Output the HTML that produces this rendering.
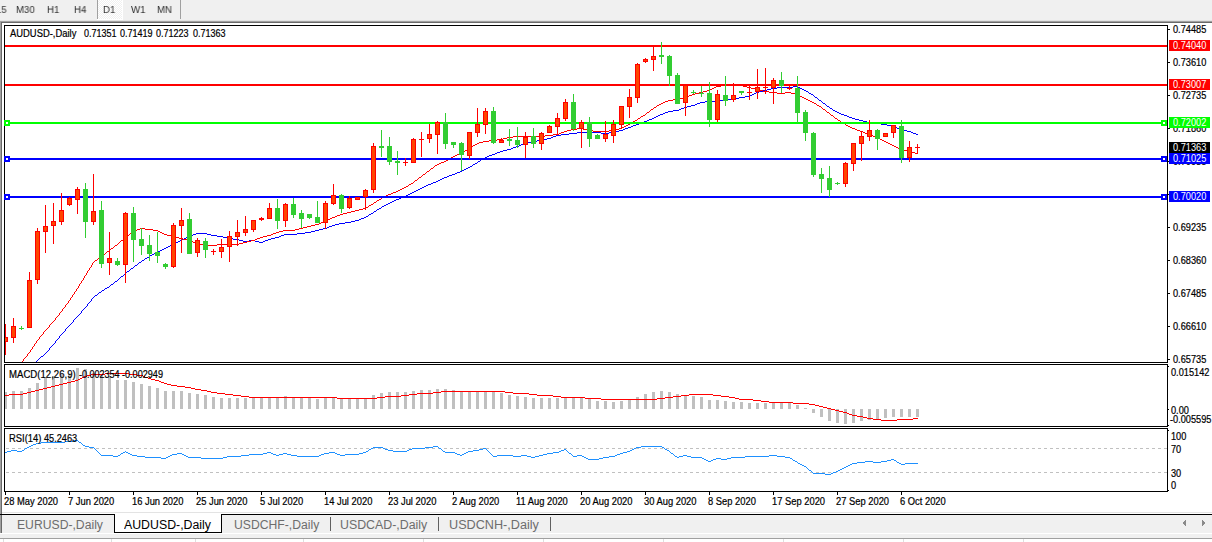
<!DOCTYPE html>
<html><head><meta charset="utf-8"><title>AUDUSD Daily</title>
<style>
html,body{margin:0;padding:0;}
body{width:1212px;height:542px;overflow:hidden;background:#fff;position:relative;font-family:"Liberation Sans", sans-serif;}
svg{position:absolute;left:0;top:0;}
.t{position:absolute;white-space:nowrap;line-height:12px;font-family:"Liberation Sans", sans-serif;font-size:10px;-webkit-text-stroke:0.2px currentColor;}
.bx{width:41px;height:11px;line-height:11px;padding-left:4px;box-sizing:border-box;-webkit-text-stroke:0;}
.tab{font-size:12px;line-height:15px;-webkit-text-stroke:0;}
.tb{will-change:transform;-webkit-text-stroke:0;}
</style></head><body>
<svg width="1212" height="542" shape-rendering="crispEdges">
<rect x="0" y="0" width="1212" height="20" fill="#f0f0f0"/>
<rect x="0" y="20" width="1212" height="1" fill="#e3e3e3"/>
<rect x="0" y="21" width="1212" height="1" fill="#a0a0a0"/>
<rect x="0" y="22" width="1212" height="1" fill="#696969"/>
<defs><pattern id="dith" x="0" y="0" width="2" height="2" patternUnits="userSpaceOnUse"><rect x="0" y="0" width="2" height="2" fill="#f0f0f0"/><rect x="0" y="0" width="1" height="1" fill="#fff"/><rect x="1" y="1" width="1" height="1" fill="#fff"/></pattern></defs>
<rect x="98" y="0" width="24" height="19" fill="url(#dith)"/>
<rect x="122" y="0" width="1" height="20" fill="#ffffff"/>
<rect x="97" y="19" width="26" height="1" fill="#ffffff"/>
<rect x="97" y="0" width="1" height="19" fill="#a0a0a0"/>
<rect x="180" y="0" width="1" height="19" fill="#a0a0a0"/>
<rect x="0" y="22" width="1" height="512" fill="#a0a0a0"/>
<rect x="1" y="22" width="1" height="512" fill="#696969"/>
<rect x="4" y="25" width="1164" height="1" fill="#000"/>
<rect x="4" y="362" width="1164" height="1" fill="#000"/>
<rect x="4" y="25" width="1" height="338" fill="#000"/>
<rect x="1167" y="25" width="1" height="338" fill="#000"/>
<rect x="4" y="364" width="1164" height="1" fill="#000"/>
<rect x="4" y="426" width="1164" height="1" fill="#000"/>
<rect x="4" y="364" width="1" height="63" fill="#000"/>
<rect x="1167" y="364" width="1" height="63" fill="#000"/>
<rect x="4" y="428" width="1164" height="1" fill="#000"/>
<rect x="4" y="491" width="1164" height="1" fill="#000"/>
<rect x="4" y="428" width="1" height="64" fill="#000"/>
<rect x="1167" y="428" width="1" height="64" fill="#000"/>
<rect x="1168" y="29" width="2" height="1" fill="#000"/>
<rect x="1168" y="62" width="2" height="1" fill="#000"/>
<rect x="1168" y="95" width="2" height="1" fill="#000"/>
<rect x="1168" y="128" width="2" height="1" fill="#000"/>
<rect x="1168" y="161" width="2" height="1" fill="#000"/>
<rect x="1168" y="194" width="2" height="1" fill="#000"/>
<rect x="1168" y="227" width="2" height="1" fill="#000"/>
<rect x="1168" y="260" width="2" height="1" fill="#000"/>
<rect x="1168" y="293" width="2" height="1" fill="#000"/>
<rect x="1168" y="326" width="2" height="1" fill="#000"/>
<rect x="1168" y="359" width="2" height="1" fill="#000"/>
<rect x="5" y="492" width="1" height="3" fill="#000"/>
<rect x="69" y="492" width="1" height="3" fill="#000"/>
<rect x="133" y="492" width="1" height="3" fill="#000"/>
<rect x="197" y="492" width="1" height="3" fill="#000"/>
<rect x="261" y="492" width="1" height="3" fill="#000"/>
<rect x="325" y="492" width="1" height="3" fill="#000"/>
<rect x="389" y="492" width="1" height="3" fill="#000"/>
<rect x="453" y="492" width="1" height="3" fill="#000"/>
<rect x="517" y="492" width="1" height="3" fill="#000"/>
<rect x="581" y="492" width="1" height="3" fill="#000"/>
<rect x="645" y="492" width="1" height="3" fill="#000"/>
<rect x="709" y="492" width="1" height="3" fill="#000"/>
<rect x="773" y="492" width="1" height="3" fill="#000"/>
<rect x="837" y="492" width="1" height="3" fill="#000"/>
<rect x="901" y="492" width="1" height="3" fill="#000"/>
<rect x="1168" y="366" width="1" height="1" fill="#000"/>
<rect x="1168" y="409" width="1" height="1" fill="#000"/>
<rect x="1168" y="425" width="1" height="1" fill="#000"/>
<rect x="1168" y="430" width="1" height="1" fill="#000"/>
<rect x="1168" y="490" width="1" height="1" fill="#000"/>
<defs><clipPath id="cm"><rect x="5" y="26" width="1162" height="336"/></clipPath><clipPath id="cd"><rect x="5" y="365" width="1162" height="61"/></clipPath><clipPath id="cr"><rect x="5" y="429" width="1162" height="62"/></clipPath></defs>
<g clip-path="url(#cm)">
<path d="M793 86h5v1h-5zM777 87h16v1h-16zM798 87h2v1h-2zM771 88h6v1h-6zM800 88h2v1h-2zM767 89h4v1h-4zM802 89h2v1h-2zM763 90h4v1h-4zM804 90h2v1h-2zM759 91h4v1h-4zM806 91h2v1h-2zM756 92h3v1h-3zM808 92h1v1h-1zM754 93h2v1h-2zM809 93h2v1h-2zM752 94h2v1h-2zM811 94h2v1h-2zM750 95h2v1h-2zM813 95h1v1h-1zM745 96h5v1h-5zM814 96h1v1h-1zM739 97h6v1h-6zM815 97h2v1h-2zM735 98h4v1h-4zM817 98h1v1h-1zM723 99h12v1h-12zM818 99h1v1h-1zM719 100h4v1h-4zM819 100h2v1h-2zM705 101h14v1h-14zM821 101h1v1h-1zM700 102h5v1h-5zM822 102h1v1h-1zM697 103h3v1h-3zM823 103h2v1h-2zM695 104h2v1h-2zM825 104h1v1h-1zM691 105h4v1h-4zM826 105h1v1h-1zM687 106h4v1h-4zM827 106h2v1h-2zM684 107h3v1h-3zM829 107h1v1h-1zM681 108h3v1h-3zM830 108h2v1h-2zM679 109h2v1h-2zM832 109h1v1h-1zM673 110h6v1h-6zM833 110h2v1h-2zM668 111h5v1h-5zM835 111h2v1h-2zM665 112h3v1h-3zM837 112h2v1h-2zM663 113h2v1h-2zM839 113h2v1h-2zM660 114h3v1h-3zM841 114h3v1h-3zM658 115h2v1h-2zM844 115h3v1h-3zM656 116h2v1h-2zM847 116h2v1h-2zM654 117h2v1h-2zM849 117h3v1h-3zM652 118h2v1h-2zM852 118h3v1h-3zM649 119h3v1h-3zM855 119h4v1h-4zM647 120h2v1h-2zM859 120h4v1h-4zM644 121h3v1h-3zM863 121h4v1h-4zM641 122h3v1h-3zM867 122h6v1h-6zM639 123h2v1h-2zM873 123h8v1h-8zM636 124h3v1h-3zM881 124h6v1h-6zM633 125h3v1h-3zM887 125h4v1h-4zM631 126h2v1h-2zM891 126h4v1h-4zM628 127h3v1h-3zM895 127h2v1h-2zM625 128h3v1h-3zM897 128h3v1h-3zM623 129h2v1h-2zM900 129h3v1h-3zM619 130h4v1h-4zM903 130h4v1h-4zM615 131h4v1h-4zM907 131h4v1h-4zM577 132h24v1h-24zM609 132h6v1h-6zM911 132h2v1h-2zM569 133h8v1h-8zM601 133h8v1h-8zM913 133h3v1h-3zM561 134h8v1h-8zM916 134h2v1h-2zM556 135h5v1h-5zM553 136h3v1h-3zM551 137h2v1h-2zM547 138h4v1h-4zM543 139h4v1h-4zM537 140h6v1h-6zM531 141h6v1h-6zM527 142h4v1h-4zM524 143h3v1h-3zM521 144h3v1h-3zM519 145h2v1h-2zM516 146h3v1h-3zM513 147h3v1h-3zM511 148h2v1h-2zM507 149h4v1h-4zM503 150h4v1h-4zM500 151h3v1h-3zM497 152h3v1h-3zM495 153h2v1h-2zM492 154h3v1h-3zM489 155h3v1h-3zM487 156h2v1h-2zM485 157h2v1h-2zM483 158h2v1h-2zM481 159h2v1h-2zM480 160h1v1h-1zM478 161h2v1h-2zM477 162h1v1h-1zM475 163h2v1h-2zM473 164h2v1h-2zM472 165h1v1h-1zM470 166h2v1h-2zM468 167h2v1h-2zM466 168h2v1h-2zM464 169h2v1h-2zM462 170h2v1h-2zM460 171h2v1h-2zM457 172h3v1h-3zM455 173h2v1h-2zM452 174h3v1h-3zM449 175h3v1h-3zM447 176h2v1h-2zM444 177h3v1h-3zM442 178h2v1h-2zM440 179h2v1h-2zM438 180h2v1h-2zM436 181h2v1h-2zM433 182h3v1h-3zM431 183h2v1h-2zM428 184h3v1h-3zM426 185h2v1h-2zM424 186h2v1h-2zM422 187h2v1h-2zM420 188h2v1h-2zM418 189h2v1h-2zM416 190h2v1h-2zM414 191h2v1h-2zM412 192h2v1h-2zM410 193h2v1h-2zM408 194h2v1h-2zM406 195h2v1h-2zM404 196h2v1h-2zM401 197h3v1h-3zM399 198h2v1h-2zM396 199h3v1h-3zM394 200h2v1h-2zM392 201h2v1h-2zM390 202h2v1h-2zM388 203h2v1h-2zM386 204h2v1h-2zM384 205h2v1h-2zM382 206h2v1h-2zM381 207h1v1h-1zM379 208h2v1h-2zM377 209h2v1h-2zM376 210h1v1h-1zM374 211h2v1h-2zM373 212h1v1h-1zM371 213h2v1h-2zM369 214h2v1h-2zM368 215h1v1h-1zM366 216h2v1h-2zM364 217h2v1h-2zM361 218h3v1h-3zM359 219h2v1h-2zM355 220h4v1h-4zM351 221h4v1h-4zM345 222h6v1h-6zM339 223h6v1h-6zM335 224h4v1h-4zM332 225h3v1h-3zM329 226h3v1h-3zM327 227h2v1h-2zM323 228h4v1h-4zM319 229h4v1h-4zM315 230h4v1h-4zM311 231h4v1h-4zM305 232h6v1h-6zM196 233h11v1h-11zM297 233h8v1h-8zM193 234h3v1h-3zM207 234h4v1h-4zM284 234h13v1h-13zM191 235h2v1h-2zM211 235h6v1h-6zM281 235h3v1h-3zM188 236h3v1h-3zM217 236h6v1h-6zM279 236h2v1h-2zM186 237h2v1h-2zM223 237h4v1h-4zM275 237h4v1h-4zM184 238h2v1h-2zM227 238h6v1h-6zM271 238h4v1h-4zM182 239h2v1h-2zM233 239h6v1h-6zM268 239h3v1h-3zM180 240h2v1h-2zM239 240h4v1h-4zM249 240h6v1h-6zM265 240h3v1h-3zM178 241h2v1h-2zM243 241h6v1h-6zM255 241h4v1h-4zM263 241h2v1h-2zM176 242h2v1h-2zM259 242h4v1h-4zM174 243h2v1h-2zM172 244h2v1h-2zM170 245h2v1h-2zM168 246h2v1h-2zM166 247h2v1h-2zM164 248h2v1h-2zM162 249h2v1h-2zM160 250h2v1h-2zM158 251h2v1h-2zM156 252h2v1h-2zM154 253h2v1h-2zM152 254h2v1h-2zM150 255h2v1h-2zM149 256h1v1h-1zM147 257h2v1h-2zM145 258h2v1h-2zM144 259h1v1h-1zM142 260h2v1h-2zM141 261h1v1h-1zM139 262h2v1h-2zM138 263h1v1h-1zM137 264h1v1h-1zM135 265h2v1h-2zM134 266h1v1h-1zM133 267h1v1h-1zM131 268h2v1h-2zM130 269h1v1h-1zM129 270h1v1h-1zM127 271h2v1h-2zM126 272h1v1h-1zM125 273h1v1h-1zM124 274h1v1h-1zM123 275h1v1h-1zM121 276h2v1h-2zM120 277h1v1h-1zM119 278h1v1h-1zM118 279h1v1h-1zM117 280h1v1h-1zM115 281h2v1h-2zM114 282h1v1h-1zM113 283h1v1h-1zM111 284h2v1h-2zM110 285h1v1h-1zM109 286h1v1h-1zM107 287h2v1h-2zM105 288h2v1h-2zM104 289h1v1h-1zM102 290h2v1h-2zM101 291h1v1h-1zM99 292h2v1h-2zM98 293h1v1h-1zM97 294h1v1h-1zM95 295h2v1h-2zM94 296h1v1h-1zM93 297h1v1h-1zM92 298h1v1h-1zM91 299h1v1h-1zM91 300h1v1h-1zM90 301h1v1h-1zM89 302h1v1h-1zM88 303h1v1h-1zM87 304h1v1h-1zM87 305h1v1h-1zM86 306h1v1h-1zM85 307h1v1h-1zM84 308h1v1h-1zM83 309h1v1h-1zM82 310h1v1h-1zM81 311h1v1h-1zM81 312h1v1h-1zM80 313h1v1h-1zM79 314h1v1h-1zM78 315h1v1h-1zM77 316h1v1h-1zM76 317h1v1h-1zM75 318h1v1h-1zM74 319h1v1h-1zM73 320h1v1h-1zM73 321h1v1h-1zM72 322h1v1h-1zM71 323h1v1h-1zM70 324h1v1h-1zM69 325h1v1h-1zM68 326h1v1h-1zM67 327h1v1h-1zM66 328h1v1h-1zM65 329h1v1h-1zM65 330h1v1h-1zM64 331h1v1h-1zM63 332h1v1h-1zM62 333h1v1h-1zM61 334h1v1h-1zM60 335h1v1h-1zM59 336h1v1h-1zM59 337h1v1h-1zM58 338h1v1h-1zM57 339h1v1h-1zM56 340h1v1h-1zM55 341h1v1h-1zM55 342h1v1h-1zM54 343h1v1h-1zM53 344h1v1h-1zM52 345h1v1h-1zM51 346h1v1h-1zM50 347h1v1h-1zM49 348h1v1h-1zM49 349h1v1h-1zM48 350h1v1h-1zM47 351h1v1h-1zM46 352h1v1h-1zM45 353h1v1h-1zM44 354h1v1h-1zM43 355h1v1h-1zM41 356h2v1h-2zM40 357h1v1h-1zM39 358h1v1h-1zM38 359h1v1h-1zM37 360h1v1h-1zM36 361h1v1h-1zM35 362h1v1h-1zM33 363h2v1h-2zM32 364h1v1h-1zM31 365h1v1h-1zM30 366h1v1h-1zM29 367h1v1h-1z" fill="#0000ff"/>
<path d="M721 85h22v1h-22zM716 86h5v1h-5zM743 86h4v1h-4zM714 87h2v1h-2zM747 87h4v1h-4zM712 88h2v1h-2zM751 88h4v1h-4zM710 89h2v1h-2zM755 89h4v1h-4zM707 90h3v1h-3zM759 90h4v1h-4zM703 91h4v1h-4zM763 91h6v1h-6zM699 92h4v1h-4zM769 92h8v1h-8zM785 92h6v1h-6zM695 93h4v1h-4zM777 93h8v1h-8zM791 93h4v1h-4zM692 94h3v1h-3zM795 94h3v1h-3zM689 95h3v1h-3zM798 95h2v1h-2zM687 96h2v1h-2zM800 96h2v1h-2zM683 97h4v1h-4zM802 97h2v1h-2zM679 98h4v1h-4zM804 98h2v1h-2zM673 99h6v1h-6zM806 99h2v1h-2zM668 100h5v1h-5zM808 100h2v1h-2zM665 101h3v1h-3zM810 101h2v1h-2zM663 102h2v1h-2zM812 102h2v1h-2zM661 103h2v1h-2zM814 103h2v1h-2zM659 104h2v1h-2zM816 104h1v1h-1zM657 105h2v1h-2zM817 105h2v1h-2zM656 106h1v1h-1zM819 106h2v1h-2zM654 107h2v1h-2zM821 107h1v1h-1zM653 108h1v1h-1zM822 108h1v1h-1zM651 109h2v1h-2zM823 109h2v1h-2zM650 110h1v1h-1zM825 110h1v1h-1zM649 111h1v1h-1zM826 111h1v1h-1zM647 112h2v1h-2zM827 112h2v1h-2zM646 113h1v1h-1zM829 113h1v1h-1zM645 114h1v1h-1zM830 114h1v1h-1zM643 115h2v1h-2zM831 115h2v1h-2zM641 116h2v1h-2zM833 116h1v1h-1zM640 117h1v1h-1zM834 117h1v1h-1zM638 118h2v1h-2zM835 118h2v1h-2zM637 119h1v1h-1zM837 119h1v1h-1zM635 120h2v1h-2zM838 120h2v1h-2zM633 121h2v1h-2zM840 121h1v1h-1zM632 122h1v1h-1zM841 122h2v1h-2zM630 123h2v1h-2zM843 123h2v1h-2zM628 124h2v1h-2zM845 124h1v1h-1zM626 125h2v1h-2zM846 125h2v1h-2zM624 126h2v1h-2zM848 126h2v1h-2zM622 127h2v1h-2zM850 127h2v1h-2zM577 128h6v1h-6zM619 128h3v1h-3zM852 128h3v1h-3zM571 129h6v1h-6zM583 129h4v1h-4zM615 129h4v1h-4zM855 129h2v1h-2zM567 130h4v1h-4zM587 130h6v1h-6zM609 130h6v1h-6zM857 130h3v1h-3zM564 131h3v1h-3zM593 131h16v1h-16zM860 131h3v1h-3zM561 132h3v1h-3zM863 132h2v1h-2zM559 133h2v1h-2zM865 133h3v1h-3zM553 134h6v1h-6zM868 134h3v1h-3zM545 135h8v1h-8zM871 135h2v1h-2zM513 136h32v1h-32zM873 136h3v1h-3zM507 137h6v1h-6zM876 137h2v1h-2zM503 138h4v1h-4zM878 138h2v1h-2zM497 139h6v1h-6zM880 139h2v1h-2zM489 140h8v1h-8zM882 140h2v1h-2zM483 141h6v1h-6zM884 141h2v1h-2zM479 142h4v1h-4zM886 142h2v1h-2zM477 143h2v1h-2zM888 143h2v1h-2zM475 144h2v1h-2zM890 144h2v1h-2zM473 145h2v1h-2zM892 145h2v1h-2zM472 146h1v1h-1zM894 146h2v1h-2zM470 147h2v1h-2zM896 147h2v1h-2zM469 148h1v1h-1zM898 148h2v1h-2zM467 149h2v1h-2zM900 149h3v1h-3zM465 150h2v1h-2zM903 150h4v1h-4zM464 151h1v1h-1zM907 151h4v1h-4zM462 152h2v1h-2zM911 152h4v1h-4zM460 153h2v1h-2zM915 153h3v1h-3zM457 154h3v1h-3zM455 155h2v1h-2zM453 156h2v1h-2zM451 157h2v1h-2zM449 158h2v1h-2zM448 159h1v1h-1zM446 160h2v1h-2zM444 161h2v1h-2zM441 162h3v1h-3zM439 163h2v1h-2zM437 164h2v1h-2zM435 165h2v1h-2zM434 166h1v1h-1zM433 167h1v1h-1zM431 168h2v1h-2zM430 169h1v1h-1zM429 170h1v1h-1zM427 171h2v1h-2zM426 172h1v1h-1zM425 173h1v1h-1zM423 174h2v1h-2zM422 175h1v1h-1zM421 176h1v1h-1zM419 177h2v1h-2zM418 178h1v1h-1zM417 179h1v1h-1zM415 180h2v1h-2zM414 181h1v1h-1zM413 182h1v1h-1zM411 183h2v1h-2zM409 184h2v1h-2zM408 185h1v1h-1zM406 186h2v1h-2zM404 187h2v1h-2zM402 188h2v1h-2zM400 189h2v1h-2zM398 190h2v1h-2zM396 191h2v1h-2zM393 192h3v1h-3zM391 193h2v1h-2zM388 194h3v1h-3zM386 195h2v1h-2zM384 196h2v1h-2zM382 197h2v1h-2zM381 198h1v1h-1zM379 199h2v1h-2zM377 200h2v1h-2zM376 201h1v1h-1zM374 202h2v1h-2zM373 203h1v1h-1zM371 204h2v1h-2zM369 205h2v1h-2zM368 206h1v1h-1zM366 207h2v1h-2zM363 208h3v1h-3zM359 209h4v1h-4zM355 210h4v1h-4zM351 211h4v1h-4zM347 212h4v1h-4zM343 213h4v1h-4zM340 214h3v1h-3zM337 215h3v1h-3zM335 216h2v1h-2zM332 217h3v1h-3zM330 218h2v1h-2zM328 219h2v1h-2zM326 220h2v1h-2zM324 221h2v1h-2zM321 222h3v1h-3zM319 223h2v1h-2zM315 224h4v1h-4zM311 225h4v1h-4zM307 226h4v1h-4zM303 227h4v1h-4zM140 228h5v1h-5zM299 228h4v1h-4zM137 229h3v1h-3zM145 229h8v1h-8zM295 229h4v1h-4zM135 230h2v1h-2zM153 230h5v1h-5zM283 230h12v1h-12zM133 231h2v1h-2zM158 231h2v1h-2zM279 231h4v1h-4zM131 232h2v1h-2zM160 232h2v1h-2zM276 232h3v1h-3zM130 233h1v1h-1zM162 233h2v1h-2zM273 233h3v1h-3zM129 234h1v1h-1zM164 234h3v1h-3zM271 234h2v1h-2zM127 235h2v1h-2zM167 235h4v1h-4zM267 235h4v1h-4zM126 236h1v1h-1zM171 236h4v1h-4zM263 236h4v1h-4zM125 237h1v1h-1zM175 237h4v1h-4zM260 237h3v1h-3zM124 238h1v1h-1zM179 238h4v1h-4zM257 238h3v1h-3zM123 239h1v1h-1zM183 239h4v1h-4zM255 239h2v1h-2zM121 240h2v1h-2zM187 240h4v1h-4zM251 240h4v1h-4zM120 241h1v1h-1zM191 241h2v1h-2zM247 241h4v1h-4zM119 242h1v1h-1zM193 242h3v1h-3zM243 242h4v1h-4zM118 243h1v1h-1zM196 243h3v1h-3zM239 243h4v1h-4zM117 244h1v1h-1zM199 244h4v1h-4zM217 244h22v1h-22zM115 245h2v1h-2zM203 245h14v1h-14zM114 246h1v1h-1zM113 247h1v1h-1zM111 248h2v1h-2zM110 249h1v1h-1zM109 250h1v1h-1zM107 251h2v1h-2zM106 252h1v1h-1zM105 253h1v1h-1zM103 254h2v1h-2zM102 255h1v1h-1zM101 256h1v1h-1zM99 257h2v1h-2zM98 258h1v1h-1zM97 259h1v1h-1zM95 260h2v1h-2zM94 261h1v1h-1zM93 262h1v1h-1zM92 263h1v1h-1zM92 264h1v1h-1zM91 265h1v1h-1zM91 266h1v1h-1zM90 267h1v1h-1zM89 268h1v1h-1zM89 269h1v1h-1zM88 270h1v1h-1zM87 271h1v1h-1zM87 272h1v1h-1zM86 273h1v1h-1zM86 274h1v1h-1zM85 275h1v1h-1zM84 276h1v1h-1zM84 277h1v1h-1zM83 278h1v1h-1zM83 279h1v1h-1zM82 280h1v1h-1zM81 281h1v1h-1zM81 282h1v1h-1zM80 283h1v1h-1zM79 284h1v1h-1zM79 285h1v1h-1zM78 286h1v1h-1zM78 287h1v1h-1zM77 288h1v1h-1zM76 289h1v1h-1zM76 290h1v1h-1zM75 291h1v1h-1zM74 292h1v1h-1zM74 293h1v1h-1zM73 294h1v1h-1zM72 295h1v1h-1zM72 296h1v1h-1zM71 297h1v1h-1zM70 298h1v1h-1zM70 299h1v1h-1zM69 300h1v1h-1zM68 301h1v1h-1zM68 302h1v1h-1zM67 303h1v1h-1zM66 304h1v1h-1zM65 305h1v1h-1zM65 306h1v1h-1zM64 307h1v1h-1zM63 308h1v1h-1zM62 309h1v1h-1zM62 310h1v1h-1zM61 311h1v1h-1zM60 312h1v1h-1zM59 313h1v1h-1zM59 314h1v1h-1zM58 315h1v1h-1zM57 316h1v1h-1zM56 317h1v1h-1zM55 318h1v1h-1zM55 319h1v1h-1zM54 320h1v1h-1zM53 321h1v1h-1zM52 322h1v1h-1zM51 323h1v1h-1zM50 324h1v1h-1zM49 325h1v1h-1zM49 326h1v1h-1zM48 327h1v1h-1zM47 328h1v1h-1zM46 329h1v1h-1zM45 330h1v1h-1zM44 331h1v1h-1zM43 332h1v1h-1zM43 333h1v1h-1zM42 334h1v1h-1zM41 335h1v1h-1zM40 336h1v1h-1zM39 337h1v1h-1zM39 338h1v1h-1zM38 339h1v1h-1zM37 340h1v1h-1zM36 341h1v1h-1zM36 342h1v1h-1zM35 343h1v1h-1zM34 344h1v1h-1zM34 345h1v1h-1zM33 346h1v1h-1zM32 347h1v1h-1zM32 348h1v1h-1zM31 349h1v1h-1zM30 350h1v1h-1zM30 351h1v1h-1zM29 352h1v1h-1zM28 353h1v1h-1zM27 354h1v1h-1zM27 355h1v1h-1zM26 356h1v1h-1zM25 357h1v1h-1zM24 358h1v1h-1zM23 359h1v1h-1zM23 360h1v1h-1zM22 361h1v1h-1zM21 362h1v1h-1z" fill="#ff0000"/>
<rect x="5" y="45" width="1162" height="2" fill="#ff0000"/>
<rect x="5" y="84" width="1162" height="2" fill="#ff0000"/>
<rect x="5" y="122" width="1162" height="2" fill="#00ff00"/>
<rect x="5" y="158" width="1162" height="2" fill="#0000ff"/>
<rect x="5" y="196" width="1162" height="2" fill="#0000ff"/>
<rect x="5" y="324" width="1" height="31" fill="#ff0000"/>
<rect x="3" y="337" width="5" height="5" fill="#ff0000"/>
<rect x="4" y="338" width="3" height="3" fill="#ff4500"/>
<rect x="13" y="318" width="1" height="25" fill="#ff0000"/>
<rect x="11" y="326" width="5" height="12" fill="#ff0000"/>
<rect x="12" y="327" width="3" height="10" fill="#ff4500"/>
<rect x="21" y="326" width="1" height="4" fill="#32cd32"/>
<rect x="19" y="328" width="5" height="1" fill="#32cd32"/>
<rect x="29" y="272" width="1" height="56" fill="#ff0000"/>
<rect x="27" y="280" width="5" height="48" fill="#ff0000"/>
<rect x="28" y="281" width="3" height="46" fill="#ff4500"/>
<rect x="37" y="228" width="1" height="56" fill="#ff0000"/>
<rect x="35" y="231" width="5" height="49" fill="#ff0000"/>
<rect x="36" y="232" width="3" height="47" fill="#ff4500"/>
<rect x="45" y="205" width="1" height="48" fill="#ff0000"/>
<rect x="43" y="226" width="5" height="6" fill="#ff0000"/>
<rect x="44" y="227" width="3" height="4" fill="#ff4500"/>
<rect x="53" y="203" width="1" height="41" fill="#ff0000"/>
<rect x="51" y="221" width="5" height="5" fill="#ff0000"/>
<rect x="52" y="222" width="3" height="3" fill="#ff4500"/>
<rect x="61" y="193" width="1" height="32" fill="#ff0000"/>
<rect x="59" y="210" width="5" height="12" fill="#ff0000"/>
<rect x="60" y="211" width="3" height="10" fill="#ff4500"/>
<rect x="69" y="197" width="1" height="9" fill="#ff0000"/>
<rect x="67" y="198" width="5" height="7" fill="#ff0000"/>
<rect x="68" y="199" width="3" height="5" fill="#ff4500"/>
<rect x="77" y="187" width="1" height="27" fill="#ff0000"/>
<rect x="75" y="189" width="5" height="11" fill="#ff0000"/>
<rect x="76" y="190" width="3" height="9" fill="#ff4500"/>
<rect x="85" y="183" width="1" height="55" fill="#32cd32"/>
<rect x="83" y="189" width="5" height="33" fill="#32cd32"/>
<rect x="93" y="174" width="1" height="51" fill="#ff0000"/>
<rect x="91" y="211" width="5" height="11" fill="#ff0000"/>
<rect x="92" y="212" width="3" height="9" fill="#ff4500"/>
<rect x="101" y="201" width="1" height="67" fill="#32cd32"/>
<rect x="99" y="210" width="5" height="54" fill="#32cd32"/>
<rect x="109" y="232" width="1" height="43" fill="#ff0000"/>
<rect x="107" y="258" width="5" height="5" fill="#ff0000"/>
<rect x="108" y="259" width="3" height="3" fill="#ff4500"/>
<rect x="117" y="258" width="1" height="8" fill="#32cd32"/>
<rect x="115" y="261" width="5" height="4" fill="#32cd32"/>
<rect x="125" y="212" width="1" height="71" fill="#ff0000"/>
<rect x="123" y="213" width="5" height="52" fill="#ff0000"/>
<rect x="124" y="214" width="3" height="50" fill="#ff4500"/>
<rect x="133" y="207" width="1" height="55" fill="#32cd32"/>
<rect x="131" y="213" width="5" height="27" fill="#32cd32"/>
<rect x="141" y="228" width="1" height="27" fill="#32cd32"/>
<rect x="139" y="239" width="5" height="7" fill="#32cd32"/>
<rect x="149" y="235" width="1" height="26" fill="#32cd32"/>
<rect x="147" y="245" width="5" height="9" fill="#32cd32"/>
<rect x="157" y="232" width="1" height="31" fill="#32cd32"/>
<rect x="155" y="252" width="5" height="4" fill="#32cd32"/>
<rect x="165" y="263" width="1" height="6" fill="#32cd32"/>
<rect x="163" y="264" width="5" height="3" fill="#32cd32"/>
<rect x="173" y="223" width="1" height="45" fill="#ff0000"/>
<rect x="171" y="225" width="5" height="42" fill="#ff0000"/>
<rect x="172" y="226" width="3" height="40" fill="#ff4500"/>
<rect x="181" y="208" width="1" height="45" fill="#ff0000"/>
<rect x="179" y="220" width="5" height="6" fill="#ff0000"/>
<rect x="180" y="221" width="3" height="4" fill="#ff4500"/>
<rect x="189" y="213" width="1" height="41" fill="#32cd32"/>
<rect x="187" y="219" width="5" height="35" fill="#32cd32"/>
<rect x="197" y="238" width="1" height="19" fill="#ff0000"/>
<rect x="195" y="240" width="5" height="13" fill="#ff0000"/>
<rect x="196" y="241" width="3" height="11" fill="#ff4500"/>
<rect x="205" y="238" width="1" height="20" fill="#32cd32"/>
<rect x="203" y="241" width="5" height="9" fill="#32cd32"/>
<rect x="213" y="249" width="1" height="6" fill="#ff0000"/>
<rect x="211" y="251" width="5" height="1" fill="#ff0000"/>
<rect x="221" y="239" width="1" height="19" fill="#ff0000"/>
<rect x="219" y="247" width="5" height="5" fill="#ff0000"/>
<rect x="220" y="248" width="3" height="3" fill="#ff4500"/>
<rect x="229" y="231" width="1" height="31" fill="#ff0000"/>
<rect x="227" y="236" width="5" height="11" fill="#ff0000"/>
<rect x="228" y="237" width="3" height="9" fill="#ff4500"/>
<rect x="237" y="220" width="1" height="26" fill="#ff0000"/>
<rect x="235" y="232" width="5" height="5" fill="#ff0000"/>
<rect x="236" y="233" width="3" height="3" fill="#ff4500"/>
<rect x="245" y="216" width="1" height="20" fill="#ff0000"/>
<rect x="243" y="229" width="5" height="4" fill="#ff0000"/>
<rect x="244" y="230" width="3" height="2" fill="#ff4500"/>
<rect x="253" y="220" width="1" height="12" fill="#ff0000"/>
<rect x="251" y="220" width="5" height="10" fill="#ff0000"/>
<rect x="252" y="221" width="3" height="8" fill="#ff4500"/>
<rect x="261" y="217" width="1" height="4" fill="#ff0000"/>
<rect x="259" y="218" width="5" height="2" fill="#ff0000"/>
<rect x="269" y="203" width="1" height="16" fill="#ff0000"/>
<rect x="267" y="208" width="5" height="11" fill="#ff0000"/>
<rect x="268" y="209" width="3" height="9" fill="#ff4500"/>
<rect x="277" y="199" width="1" height="30" fill="#32cd32"/>
<rect x="275" y="208" width="5" height="13" fill="#32cd32"/>
<rect x="285" y="203" width="1" height="24" fill="#ff0000"/>
<rect x="283" y="204" width="5" height="17" fill="#ff0000"/>
<rect x="284" y="205" width="3" height="15" fill="#ff4500"/>
<rect x="293" y="198" width="1" height="20" fill="#32cd32"/>
<rect x="291" y="204" width="5" height="11" fill="#32cd32"/>
<rect x="301" y="210" width="1" height="18" fill="#32cd32"/>
<rect x="299" y="213" width="5" height="6" fill="#32cd32"/>
<rect x="309" y="214" width="1" height="5" fill="#32cd32"/>
<rect x="307" y="214" width="5" height="4" fill="#32cd32"/>
<rect x="317" y="201" width="1" height="22" fill="#32cd32"/>
<rect x="315" y="217" width="5" height="6" fill="#32cd32"/>
<rect x="325" y="201" width="1" height="28" fill="#ff0000"/>
<rect x="323" y="203" width="5" height="20" fill="#ff0000"/>
<rect x="324" y="204" width="3" height="18" fill="#ff4500"/>
<rect x="333" y="184" width="1" height="21" fill="#ff0000"/>
<rect x="331" y="195" width="5" height="9" fill="#ff0000"/>
<rect x="332" y="196" width="3" height="7" fill="#ff4500"/>
<rect x="341" y="194" width="1" height="19" fill="#32cd32"/>
<rect x="339" y="195" width="5" height="14" fill="#32cd32"/>
<rect x="349" y="196" width="1" height="13" fill="#ff0000"/>
<rect x="347" y="198" width="5" height="10" fill="#ff0000"/>
<rect x="348" y="199" width="3" height="8" fill="#ff4500"/>
<rect x="357" y="197" width="1" height="3" fill="#ff0000"/>
<rect x="355" y="197" width="5" height="3" fill="#ff0000"/>
<rect x="356" y="198" width="3" height="1" fill="#ff4500"/>
<rect x="365" y="189" width="1" height="21" fill="#ff0000"/>
<rect x="363" y="190" width="5" height="7" fill="#ff0000"/>
<rect x="364" y="191" width="3" height="5" fill="#ff4500"/>
<rect x="373" y="143" width="1" height="50" fill="#ff0000"/>
<rect x="371" y="146" width="5" height="44" fill="#ff0000"/>
<rect x="372" y="147" width="3" height="42" fill="#ff4500"/>
<rect x="381" y="130" width="1" height="27" fill="#32cd32"/>
<rect x="379" y="146" width="5" height="2" fill="#32cd32"/>
<rect x="389" y="137" width="1" height="28" fill="#32cd32"/>
<rect x="387" y="146" width="5" height="16" fill="#32cd32"/>
<rect x="397" y="151" width="1" height="24" fill="#32cd32"/>
<rect x="395" y="161" width="5" height="2" fill="#32cd32"/>
<rect x="405" y="158" width="1" height="8" fill="#ff0000"/>
<rect x="403" y="162" width="5" height="1" fill="#ff0000"/>
<rect x="413" y="138" width="1" height="25" fill="#ff0000"/>
<rect x="411" y="139" width="5" height="24" fill="#ff0000"/>
<rect x="412" y="140" width="3" height="22" fill="#ff4500"/>
<rect x="421" y="132" width="1" height="25" fill="#ff0000"/>
<rect x="419" y="139" width="5" height="1" fill="#ff0000"/>
<rect x="429" y="124" width="1" height="19" fill="#ff0000"/>
<rect x="427" y="134" width="5" height="5" fill="#ff0000"/>
<rect x="428" y="135" width="3" height="3" fill="#ff4500"/>
<rect x="437" y="121" width="1" height="33" fill="#ff0000"/>
<rect x="435" y="122" width="5" height="13" fill="#ff0000"/>
<rect x="436" y="123" width="3" height="11" fill="#ff4500"/>
<rect x="445" y="113" width="1" height="36" fill="#32cd32"/>
<rect x="443" y="122" width="5" height="22" fill="#32cd32"/>
<rect x="453" y="142" width="1" height="6" fill="#32cd32"/>
<rect x="451" y="142" width="5" height="3" fill="#32cd32"/>
<rect x="461" y="142" width="1" height="29" fill="#32cd32"/>
<rect x="459" y="143" width="5" height="12" fill="#32cd32"/>
<rect x="469" y="132" width="1" height="27" fill="#ff0000"/>
<rect x="467" y="132" width="5" height="24" fill="#ff0000"/>
<rect x="468" y="133" width="3" height="22" fill="#ff4500"/>
<rect x="477" y="108" width="1" height="29" fill="#ff0000"/>
<rect x="475" y="124" width="5" height="9" fill="#ff0000"/>
<rect x="476" y="125" width="3" height="7" fill="#ff4500"/>
<rect x="485" y="108" width="1" height="26" fill="#ff0000"/>
<rect x="483" y="111" width="5" height="14" fill="#ff0000"/>
<rect x="484" y="112" width="3" height="12" fill="#ff4500"/>
<rect x="493" y="107" width="1" height="37" fill="#32cd32"/>
<rect x="491" y="111" width="5" height="32" fill="#32cd32"/>
<rect x="501" y="138" width="1" height="5" fill="#ff0000"/>
<rect x="499" y="140" width="5" height="3" fill="#ff0000"/>
<rect x="500" y="141" width="3" height="1" fill="#ff4500"/>
<rect x="509" y="129" width="1" height="17" fill="#32cd32"/>
<rect x="507" y="139" width="5" height="2" fill="#32cd32"/>
<rect x="517" y="127" width="1" height="21" fill="#32cd32"/>
<rect x="515" y="140" width="5" height="5" fill="#32cd32"/>
<rect x="525" y="132" width="1" height="26" fill="#ff0000"/>
<rect x="523" y="137" width="5" height="8" fill="#ff0000"/>
<rect x="524" y="138" width="3" height="6" fill="#ff4500"/>
<rect x="533" y="128" width="1" height="20" fill="#32cd32"/>
<rect x="531" y="136" width="5" height="8" fill="#32cd32"/>
<rect x="541" y="132" width="1" height="18" fill="#ff0000"/>
<rect x="539" y="133" width="5" height="11" fill="#ff0000"/>
<rect x="540" y="134" width="3" height="9" fill="#ff4500"/>
<rect x="549" y="125" width="1" height="8" fill="#ff0000"/>
<rect x="547" y="126" width="5" height="7" fill="#ff0000"/>
<rect x="548" y="127" width="3" height="5" fill="#ff4500"/>
<rect x="557" y="113" width="1" height="22" fill="#ff0000"/>
<rect x="555" y="118" width="5" height="9" fill="#ff0000"/>
<rect x="556" y="119" width="3" height="7" fill="#ff4500"/>
<rect x="565" y="99" width="1" height="22" fill="#ff0000"/>
<rect x="563" y="102" width="5" height="17" fill="#ff0000"/>
<rect x="564" y="103" width="3" height="15" fill="#ff4500"/>
<rect x="573" y="94" width="1" height="37" fill="#32cd32"/>
<rect x="571" y="102" width="5" height="27" fill="#32cd32"/>
<rect x="581" y="120" width="1" height="28" fill="#ff0000"/>
<rect x="579" y="122" width="5" height="7" fill="#ff0000"/>
<rect x="580" y="123" width="3" height="5" fill="#ff4500"/>
<rect x="589" y="117" width="1" height="30" fill="#32cd32"/>
<rect x="587" y="122" width="5" height="17" fill="#32cd32"/>
<rect x="597" y="134" width="1" height="5" fill="#32cd32"/>
<rect x="595" y="135" width="5" height="4" fill="#32cd32"/>
<rect x="605" y="121" width="1" height="21" fill="#ff0000"/>
<rect x="603" y="134" width="5" height="5" fill="#ff0000"/>
<rect x="604" y="135" width="3" height="3" fill="#ff4500"/>
<rect x="613" y="120" width="1" height="23" fill="#ff0000"/>
<rect x="611" y="124" width="5" height="12" fill="#ff0000"/>
<rect x="612" y="125" width="3" height="10" fill="#ff4500"/>
<rect x="621" y="106" width="1" height="22" fill="#ff0000"/>
<rect x="619" y="106" width="5" height="19" fill="#ff0000"/>
<rect x="620" y="107" width="3" height="17" fill="#ff4500"/>
<rect x="629" y="89" width="1" height="29" fill="#ff0000"/>
<rect x="627" y="97" width="5" height="10" fill="#ff0000"/>
<rect x="628" y="98" width="3" height="8" fill="#ff4500"/>
<rect x="637" y="63" width="1" height="40" fill="#ff0000"/>
<rect x="635" y="64" width="5" height="34" fill="#ff0000"/>
<rect x="636" y="65" width="3" height="32" fill="#ff4500"/>
<rect x="645" y="58" width="1" height="5" fill="#ff0000"/>
<rect x="643" y="59" width="5" height="3" fill="#ff0000"/>
<rect x="644" y="60" width="3" height="1" fill="#ff4500"/>
<rect x="653" y="46" width="1" height="25" fill="#ff0000"/>
<rect x="651" y="56" width="5" height="4" fill="#ff0000"/>
<rect x="652" y="57" width="3" height="2" fill="#ff4500"/>
<rect x="661" y="42" width="1" height="22" fill="#32cd32"/>
<rect x="659" y="55" width="5" height="2" fill="#32cd32"/>
<rect x="669" y="55" width="1" height="31" fill="#32cd32"/>
<rect x="667" y="56" width="5" height="20" fill="#32cd32"/>
<rect x="677" y="73" width="1" height="31" fill="#32cd32"/>
<rect x="675" y="75" width="5" height="29" fill="#32cd32"/>
<rect x="685" y="85" width="1" height="31" fill="#ff0000"/>
<rect x="683" y="85" width="5" height="18" fill="#ff0000"/>
<rect x="684" y="86" width="3" height="16" fill="#ff4500"/>
<rect x="693" y="90" width="1" height="4" fill="#32cd32"/>
<rect x="691" y="92" width="5" height="1" fill="#32cd32"/>
<rect x="701" y="86" width="1" height="11" fill="#32cd32"/>
<rect x="699" y="93" width="5" height="1" fill="#32cd32"/>
<rect x="709" y="82" width="1" height="45" fill="#32cd32"/>
<rect x="707" y="93" width="5" height="27" fill="#32cd32"/>
<rect x="717" y="90" width="1" height="32" fill="#ff0000"/>
<rect x="715" y="94" width="5" height="26" fill="#ff0000"/>
<rect x="716" y="95" width="3" height="24" fill="#ff4500"/>
<rect x="725" y="76" width="1" height="30" fill="#32cd32"/>
<rect x="723" y="95" width="5" height="6" fill="#32cd32"/>
<rect x="733" y="83" width="1" height="19" fill="#ff0000"/>
<rect x="731" y="95" width="5" height="5" fill="#ff0000"/>
<rect x="732" y="96" width="3" height="3" fill="#ff4500"/>
<rect x="741" y="91" width="1" height="4" fill="#32cd32"/>
<rect x="739" y="91" width="5" height="2" fill="#32cd32"/>
<rect x="749" y="85" width="1" height="15" fill="#ff0000"/>
<rect x="747" y="92" width="5" height="1" fill="#ff0000"/>
<rect x="757" y="69" width="1" height="30" fill="#ff0000"/>
<rect x="755" y="87" width="5" height="5" fill="#ff0000"/>
<rect x="756" y="88" width="3" height="3" fill="#ff4500"/>
<rect x="765" y="68" width="1" height="26" fill="#ff0000"/>
<rect x="763" y="87" width="5" height="1" fill="#ff0000"/>
<rect x="773" y="78" width="1" height="26" fill="#ff0000"/>
<rect x="771" y="80" width="5" height="8" fill="#ff0000"/>
<rect x="772" y="81" width="3" height="6" fill="#ff4500"/>
<rect x="781" y="72" width="1" height="21" fill="#32cd32"/>
<rect x="779" y="80" width="5" height="6" fill="#32cd32"/>
<rect x="789" y="86" width="1" height="4" fill="#ff0000"/>
<rect x="787" y="88" width="5" height="1" fill="#ff0000"/>
<rect x="797" y="76" width="1" height="47" fill="#32cd32"/>
<rect x="795" y="88" width="5" height="25" fill="#32cd32"/>
<rect x="805" y="110" width="1" height="31" fill="#32cd32"/>
<rect x="803" y="112" width="5" height="21" fill="#32cd32"/>
<rect x="813" y="132" width="1" height="45" fill="#32cd32"/>
<rect x="811" y="133" width="5" height="42" fill="#32cd32"/>
<rect x="821" y="168" width="1" height="25" fill="#32cd32"/>
<rect x="819" y="174" width="5" height="5" fill="#32cd32"/>
<rect x="829" y="166" width="1" height="31" fill="#32cd32"/>
<rect x="827" y="178" width="5" height="12" fill="#32cd32"/>
<rect x="837" y="182" width="1" height="3" fill="#32cd32"/>
<rect x="835" y="183" width="5" height="1" fill="#32cd32"/>
<rect x="845" y="162" width="1" height="25" fill="#ff0000"/>
<rect x="843" y="163" width="5" height="21" fill="#ff0000"/>
<rect x="844" y="164" width="3" height="19" fill="#ff4500"/>
<rect x="853" y="143" width="1" height="28" fill="#ff0000"/>
<rect x="851" y="143" width="5" height="21" fill="#ff0000"/>
<rect x="852" y="144" width="3" height="19" fill="#ff4500"/>
<rect x="861" y="131" width="1" height="30" fill="#ff0000"/>
<rect x="859" y="136" width="5" height="8" fill="#ff0000"/>
<rect x="860" y="137" width="3" height="6" fill="#ff4500"/>
<rect x="869" y="120" width="1" height="21" fill="#ff0000"/>
<rect x="867" y="130" width="5" height="7" fill="#ff0000"/>
<rect x="868" y="131" width="3" height="5" fill="#ff4500"/>
<rect x="877" y="129" width="1" height="21" fill="#32cd32"/>
<rect x="875" y="130" width="5" height="9" fill="#32cd32"/>
<rect x="885" y="133" width="1" height="4" fill="#ff0000"/>
<rect x="883" y="133" width="5" height="4" fill="#ff0000"/>
<rect x="884" y="134" width="3" height="2" fill="#ff4500"/>
<rect x="893" y="125" width="1" height="13" fill="#ff0000"/>
<rect x="891" y="125" width="5" height="8" fill="#ff0000"/>
<rect x="892" y="126" width="3" height="6" fill="#ff4500"/>
<rect x="901" y="120" width="1" height="43" fill="#32cd32"/>
<rect x="899" y="126" width="5" height="32" fill="#32cd32"/>
<rect x="909" y="141" width="1" height="21" fill="#ff0000"/>
<rect x="907" y="147" width="5" height="11" fill="#ff0000"/>
<rect x="908" y="148" width="3" height="9" fill="#ff4500"/>
<rect x="917" y="144" width="1" height="9" fill="#ff0000"/>
<rect x="915" y="147" width="5" height="1" fill="#ff0000"/>
</g>
<rect x="4" y="120" width="6" height="6" fill="#00ff00"/>
<rect x="6" y="122" width="2" height="2" fill="#fff"/>
<rect x="1161" y="120" width="6" height="6" fill="#00ff00"/>
<rect x="1163" y="122" width="2" height="2" fill="#fff"/>
<rect x="4" y="156" width="6" height="6" fill="#0000ff"/>
<rect x="6" y="158" width="2" height="2" fill="#fff"/>
<rect x="1161" y="156" width="6" height="6" fill="#0000ff"/>
<rect x="1163" y="158" width="2" height="2" fill="#fff"/>
<rect x="4" y="194" width="6" height="6" fill="#0000ff"/>
<rect x="6" y="196" width="2" height="2" fill="#fff"/>
<rect x="1161" y="194" width="6" height="6" fill="#0000ff"/>
<rect x="1163" y="196" width="2" height="2" fill="#fff"/>
<g clip-path="url(#cd)">
<rect x="4" y="392" width="3" height="17" fill="#c0c0c0"/>
<rect x="12" y="391" width="3" height="18" fill="#c0c0c0"/>
<rect x="20" y="391" width="3" height="18" fill="#c0c0c0"/>
<rect x="28" y="388" width="3" height="21" fill="#c0c0c0"/>
<rect x="36" y="383" width="3" height="26" fill="#c0c0c0"/>
<rect x="44" y="378" width="3" height="31" fill="#c0c0c0"/>
<rect x="52" y="376" width="3" height="33" fill="#c0c0c0"/>
<rect x="60" y="375" width="3" height="34" fill="#c0c0c0"/>
<rect x="68" y="374" width="3" height="35" fill="#c0c0c0"/>
<rect x="76" y="368" width="3" height="41" fill="#c0c0c0"/>
<rect x="84" y="369" width="3" height="40" fill="#c0c0c0"/>
<rect x="92" y="373" width="3" height="36" fill="#c0c0c0"/>
<rect x="100" y="374" width="3" height="35" fill="#c0c0c0"/>
<rect x="108" y="376" width="3" height="33" fill="#c0c0c0"/>
<rect x="116" y="380" width="3" height="29" fill="#c0c0c0"/>
<rect x="124" y="380" width="3" height="29" fill="#c0c0c0"/>
<rect x="132" y="382" width="3" height="27" fill="#c0c0c0"/>
<rect x="140" y="384" width="3" height="25" fill="#c0c0c0"/>
<rect x="148" y="386" width="3" height="23" fill="#c0c0c0"/>
<rect x="156" y="388" width="3" height="21" fill="#c0c0c0"/>
<rect x="164" y="391" width="3" height="18" fill="#c0c0c0"/>
<rect x="172" y="391" width="3" height="18" fill="#c0c0c0"/>
<rect x="180" y="391" width="3" height="18" fill="#c0c0c0"/>
<rect x="188" y="393" width="3" height="16" fill="#c0c0c0"/>
<rect x="196" y="394" width="3" height="15" fill="#c0c0c0"/>
<rect x="204" y="395" width="3" height="14" fill="#c0c0c0"/>
<rect x="212" y="397" width="3" height="12" fill="#c0c0c0"/>
<rect x="220" y="398" width="3" height="11" fill="#c0c0c0"/>
<rect x="228" y="398" width="3" height="11" fill="#c0c0c0"/>
<rect x="236" y="398" width="3" height="11" fill="#c0c0c0"/>
<rect x="244" y="398" width="3" height="11" fill="#c0c0c0"/>
<rect x="252" y="398" width="3" height="11" fill="#c0c0c0"/>
<rect x="260" y="398" width="3" height="11" fill="#c0c0c0"/>
<rect x="268" y="398" width="3" height="11" fill="#c0c0c0"/>
<rect x="276" y="398" width="3" height="11" fill="#c0c0c0"/>
<rect x="284" y="396" width="3" height="13" fill="#c0c0c0"/>
<rect x="292" y="398" width="3" height="11" fill="#c0c0c0"/>
<rect x="300" y="398" width="3" height="11" fill="#c0c0c0"/>
<rect x="308" y="398" width="3" height="11" fill="#c0c0c0"/>
<rect x="316" y="399" width="3" height="10" fill="#c0c0c0"/>
<rect x="324" y="398" width="3" height="11" fill="#c0c0c0"/>
<rect x="332" y="398" width="3" height="11" fill="#c0c0c0"/>
<rect x="340" y="399" width="3" height="10" fill="#c0c0c0"/>
<rect x="348" y="399" width="3" height="10" fill="#c0c0c0"/>
<rect x="356" y="399" width="3" height="10" fill="#c0c0c0"/>
<rect x="364" y="399" width="3" height="10" fill="#c0c0c0"/>
<rect x="372" y="395" width="3" height="14" fill="#c0c0c0"/>
<rect x="380" y="393" width="3" height="16" fill="#c0c0c0"/>
<rect x="388" y="392" width="3" height="17" fill="#c0c0c0"/>
<rect x="396" y="392" width="3" height="17" fill="#c0c0c0"/>
<rect x="404" y="392" width="3" height="17" fill="#c0c0c0"/>
<rect x="412" y="391" width="3" height="18" fill="#c0c0c0"/>
<rect x="420" y="390" width="3" height="19" fill="#c0c0c0"/>
<rect x="428" y="390" width="3" height="19" fill="#c0c0c0"/>
<rect x="436" y="389" width="3" height="20" fill="#c0c0c0"/>
<rect x="444" y="389" width="3" height="20" fill="#c0c0c0"/>
<rect x="452" y="390" width="3" height="19" fill="#c0c0c0"/>
<rect x="460" y="392" width="3" height="17" fill="#c0c0c0"/>
<rect x="468" y="392" width="3" height="17" fill="#c0c0c0"/>
<rect x="476" y="392" width="3" height="17" fill="#c0c0c0"/>
<rect x="484" y="392" width="3" height="17" fill="#c0c0c0"/>
<rect x="492" y="392" width="3" height="17" fill="#c0c0c0"/>
<rect x="500" y="393" width="3" height="16" fill="#c0c0c0"/>
<rect x="508" y="395" width="3" height="14" fill="#c0c0c0"/>
<rect x="516" y="396" width="3" height="13" fill="#c0c0c0"/>
<rect x="524" y="397" width="3" height="12" fill="#c0c0c0"/>
<rect x="532" y="398" width="3" height="11" fill="#c0c0c0"/>
<rect x="540" y="398" width="3" height="11" fill="#c0c0c0"/>
<rect x="548" y="398" width="3" height="11" fill="#c0c0c0"/>
<rect x="556" y="398" width="3" height="11" fill="#c0c0c0"/>
<rect x="564" y="398" width="3" height="11" fill="#c0c0c0"/>
<rect x="572" y="398" width="3" height="11" fill="#c0c0c0"/>
<rect x="580" y="398" width="3" height="11" fill="#c0c0c0"/>
<rect x="588" y="399" width="3" height="10" fill="#c0c0c0"/>
<rect x="596" y="401" width="3" height="8" fill="#c0c0c0"/>
<rect x="604" y="401" width="3" height="8" fill="#c0c0c0"/>
<rect x="612" y="402" width="3" height="7" fill="#c0c0c0"/>
<rect x="620" y="401" width="3" height="8" fill="#c0c0c0"/>
<rect x="628" y="400" width="3" height="9" fill="#c0c0c0"/>
<rect x="636" y="397" width="3" height="12" fill="#c0c0c0"/>
<rect x="644" y="394" width="3" height="15" fill="#c0c0c0"/>
<rect x="652" y="392" width="3" height="17" fill="#c0c0c0"/>
<rect x="660" y="391" width="3" height="18" fill="#c0c0c0"/>
<rect x="668" y="392" width="3" height="17" fill="#c0c0c0"/>
<rect x="676" y="394" width="3" height="15" fill="#c0c0c0"/>
<rect x="684" y="396" width="3" height="13" fill="#c0c0c0"/>
<rect x="692" y="396" width="3" height="13" fill="#c0c0c0"/>
<rect x="700" y="397" width="3" height="12" fill="#c0c0c0"/>
<rect x="708" y="400" width="3" height="9" fill="#c0c0c0"/>
<rect x="716" y="400" width="3" height="9" fill="#c0c0c0"/>
<rect x="724" y="401" width="3" height="8" fill="#c0c0c0"/>
<rect x="732" y="402" width="3" height="7" fill="#c0c0c0"/>
<rect x="740" y="402" width="3" height="7" fill="#c0c0c0"/>
<rect x="748" y="403" width="3" height="6" fill="#c0c0c0"/>
<rect x="756" y="403" width="3" height="6" fill="#c0c0c0"/>
<rect x="764" y="403" width="3" height="6" fill="#c0c0c0"/>
<rect x="772" y="403" width="3" height="6" fill="#c0c0c0"/>
<rect x="780" y="403" width="3" height="6" fill="#c0c0c0"/>
<rect x="788" y="403" width="3" height="6" fill="#c0c0c0"/>
<rect x="796" y="405" width="3" height="4" fill="#c0c0c0"/>
<rect x="804" y="408" width="3" height="1" fill="#c0c0c0"/>
<rect x="812" y="409" width="3" height="4" fill="#c0c0c0"/>
<rect x="820" y="409" width="3" height="8" fill="#c0c0c0"/>
<rect x="828" y="409" width="3" height="12" fill="#c0c0c0"/>
<rect x="836" y="409" width="3" height="14" fill="#c0c0c0"/>
<rect x="844" y="409" width="3" height="15" fill="#c0c0c0"/>
<rect x="852" y="409" width="3" height="14" fill="#c0c0c0"/>
<rect x="860" y="409" width="3" height="12" fill="#c0c0c0"/>
<rect x="868" y="409" width="3" height="11" fill="#c0c0c0"/>
<rect x="876" y="409" width="3" height="10" fill="#c0c0c0"/>
<rect x="884" y="409" width="3" height="9" fill="#c0c0c0"/>
<rect x="892" y="409" width="3" height="8" fill="#c0c0c0"/>
<rect x="900" y="409" width="3" height="8" fill="#c0c0c0"/>
<rect x="908" y="409" width="3" height="8" fill="#c0c0c0"/>
<rect x="916" y="409" width="3" height="8" fill="#c0c0c0"/>
<path d="M105 373h24v1h-24zM91 374h14v1h-14zM129 374h8v1h-8zM87 375h4v1h-4zM137 375h6v1h-6zM84 376h3v1h-3zM143 376h2v1h-2zM82 377h2v1h-2zM145 377h3v1h-3zM80 378h2v1h-2zM148 378h3v1h-3zM78 379h2v1h-2zM151 379h4v1h-4zM75 380h3v1h-3zM155 380h4v1h-4zM71 381h4v1h-4zM159 381h2v1h-2zM67 382h4v1h-4zM161 382h3v1h-3zM63 383h4v1h-4zM164 383h3v1h-3zM59 384h4v1h-4zM167 384h4v1h-4zM55 385h4v1h-4zM171 385h6v1h-6zM51 386h4v1h-4zM177 386h8v1h-8zM47 387h4v1h-4zM185 387h6v1h-6zM43 388h4v1h-4zM191 388h4v1h-4zM39 389h4v1h-4zM195 389h6v1h-6zM35 390h4v1h-4zM201 390h6v1h-6zM31 391h4v1h-4zM207 391h4v1h-4zM441 391h64v1h-64zM27 392h4v1h-4zM211 392h6v1h-6zM433 392h8v1h-8zM505 392h8v1h-8zM23 393h4v1h-4zM217 393h8v1h-8zM417 393h16v1h-16zM513 393h16v1h-16zM9 394h14v1h-14zM225 394h8v1h-8zM409 394h8v1h-8zM529 394h8v1h-8zM689 394h24v1h-24zM5 395h4v1h-4zM233 395h8v1h-8zM401 395h8v1h-8zM537 395h16v1h-16zM681 395h8v1h-8zM713 395h8v1h-8zM241 396h8v1h-8zM385 396h16v1h-16zM553 396h8v1h-8zM673 396h8v1h-8zM721 396h8v1h-8zM249 397h88v1h-88zM377 397h8v1h-8zM561 397h24v1h-24zM665 397h8v1h-8zM729 397h6v1h-6zM337 398h40v1h-40zM585 398h16v1h-16zM657 398h8v1h-8zM735 398h4v1h-4zM601 399h56v1h-56zM739 399h14v1h-14zM753 400h8v1h-8zM761 401h8v1h-8zM769 402h24v1h-24zM793 403h16v1h-16zM809 404h6v1h-6zM815 405h4v1h-4zM819 406h4v1h-4zM823 407h4v1h-4zM827 408h4v1h-4zM831 409h4v1h-4zM835 410h4v1h-4zM839 411h4v1h-4zM843 412h4v1h-4zM847 413h2v1h-2zM849 414h3v1h-3zM852 415h5v1h-5zM857 416h6v1h-6zM863 417h4v1h-4zM867 418h6v1h-6zM913 418h5v1h-5zM873 419h8v1h-8zM897 419h16v1h-16zM881 420h16v1h-16z" fill="#ff0000"/>
</g>
<g clip-path="url(#cr)">
<line x1="6" y1="448.5" x2="1167" y2="448.5" stroke="#c0c0c0" stroke-width="1" stroke-dasharray="3,3"/>
<line x1="6" y1="472.5" x2="1167" y2="472.5" stroke="#c0c0c0" stroke-width="1" stroke-dasharray="3,3"/>
<path d="M73 440h5v1h-5zM65 441h8v1h-8zM78 441h1v1h-1zM41 442h24v1h-24zM79 442h2v1h-2zM36 443h5v1h-5zM81 443h1v1h-1zM33 444h3v1h-3zM82 444h1v1h-1zM31 445h2v1h-2zM83 445h2v1h-2zM29 446h2v1h-2zM85 446h4v1h-4zM433 446h5v1h-5zM641 446h21v1h-21zM27 447h2v1h-2zM89 447h5v1h-5zM373 447h10v1h-10zM425 447h8v1h-8zM438 447h1v1h-1zM636 447h5v1h-5zM662 447h2v1h-2zM25 448h2v1h-2zM94 448h1v1h-1zM371 448h2v1h-2zM383 448h2v1h-2zM412 448h13v1h-13zM439 448h2v1h-2zM483 448h3v1h-3zM634 448h2v1h-2zM664 448h1v1h-1zM24 449h1v1h-1zM95 449h1v1h-1zM369 449h2v1h-2zM385 449h3v1h-3zM409 449h3v1h-3zM441 449h1v1h-1zM479 449h4v1h-4zM486 449h1v1h-1zM564 449h2v1h-2zM632 449h2v1h-2zM665 449h2v1h-2zM11 450h6v1h-6zM22 450h2v1h-2zM96 450h1v1h-1zM368 450h1v1h-1zM388 450h5v1h-5zM407 450h2v1h-2zM442 450h1v1h-1zM473 450h6v1h-6zM487 450h1v1h-1zM561 450h3v1h-3zM566 450h1v1h-1zM630 450h2v1h-2zM667 450h2v1h-2zM7 451h4v1h-4zM17 451h5v1h-5zM97 451h1v1h-1zM125 451h1v1h-1zM366 451h2v1h-2zM393 451h14v1h-14zM443 451h2v1h-2zM468 451h5v1h-5zM488 451h1v1h-1zM559 451h2v1h-2zM567 451h1v1h-1zM627 451h3v1h-3zM669 451h1v1h-1zM5 452h2v1h-2zM98 452h1v1h-1zM123 452h2v1h-2zM126 452h2v1h-2zM267 452h4v1h-4zM329 452h6v1h-6zM363 452h3v1h-3zM445 452h10v1h-10zM466 452h2v1h-2zM489 452h1v1h-1zM553 452h6v1h-6zM568 452h1v1h-1zM623 452h4v1h-4zM670 452h1v1h-1zM99 453h1v1h-1zM121 453h2v1h-2zM128 453h2v1h-2zM177 453h5v1h-5zM263 453h4v1h-4zM271 453h2v1h-2zM283 453h4v1h-4zM324 453h5v1h-5zM335 453h2v1h-2zM359 453h4v1h-4zM455 453h2v1h-2zM464 453h2v1h-2zM490 453h1v1h-1zM547 453h6v1h-6zM569 453h2v1h-2zM620 453h3v1h-3zM671 453h2v1h-2zM100 454h1v1h-1zM120 454h1v1h-1zM130 454h2v1h-2zM172 454h5v1h-5zM182 454h2v1h-2zM249 454h14v1h-14zM273 454h3v1h-3zM279 454h4v1h-4zM287 454h4v1h-4zM321 454h3v1h-3zM337 454h3v1h-3zM345 454h14v1h-14zM457 454h3v1h-3zM462 454h2v1h-2zM491 454h1v1h-1zM543 454h4v1h-4zM571 454h1v1h-1zM617 454h3v1h-3zM673 454h1v1h-1zM101 455h12v1h-12zM118 455h2v1h-2zM132 455h5v1h-5zM170 455h2v1h-2zM184 455h2v1h-2zM241 455h8v1h-8zM276 455h3v1h-3zM291 455h6v1h-6zM319 455h2v1h-2zM340 455h5v1h-5zM460 455h2v1h-2zM492 455h1v1h-1zM497 455h16v1h-16zM521 455h6v1h-6zM539 455h4v1h-4zM572 455h1v1h-1zM577 455h5v1h-5zM615 455h2v1h-2zM674 455h1v1h-1zM683 455h4v1h-4zM769 455h8v1h-8zM113 456h5v1h-5zM137 456h8v1h-8zM168 456h2v1h-2zM186 456h2v1h-2zM227 456h14v1h-14zM297 456h22v1h-22zM493 456h4v1h-4zM513 456h8v1h-8zM527 456h4v1h-4zM535 456h4v1h-4zM573 456h4v1h-4zM582 456h2v1h-2zM609 456h6v1h-6zM675 456h2v1h-2zM679 456h4v1h-4zM687 456h4v1h-4zM745 456h24v1h-24zM777 456h8v1h-8zM145 457h16v1h-16zM166 457h2v1h-2zM188 457h13v1h-13zM223 457h4v1h-4zM531 457h4v1h-4zM584 457h2v1h-2zM603 457h6v1h-6zM677 457h2v1h-2zM691 457h11v1h-11zM731 457h14v1h-14zM785 457h5v1h-5zM161 458h5v1h-5zM201 458h22v1h-22zM586 458h2v1h-2zM599 458h4v1h-4zM702 458h2v1h-2zM716 458h5v1h-5zM727 458h4v1h-4zM790 458h2v1h-2zM588 459h11v1h-11zM704 459h2v1h-2zM713 459h3v1h-3zM721 459h6v1h-6zM792 459h1v1h-1zM891 459h3v1h-3zM706 460h2v1h-2zM711 460h2v1h-2zM793 460h2v1h-2zM887 460h4v1h-4zM894 460h2v1h-2zM708 461h3v1h-3zM795 461h2v1h-2zM865 461h8v1h-8zM881 461h6v1h-6zM896 461h1v1h-1zM797 462h1v1h-1zM857 462h8v1h-8zM873 462h8v1h-8zM897 462h2v1h-2zM798 463h2v1h-2zM852 463h5v1h-5zM899 463h2v1h-2zM905 463h13v1h-13zM800 464h2v1h-2zM850 464h2v1h-2zM901 464h4v1h-4zM802 465h2v1h-2zM848 465h2v1h-2zM804 466h2v1h-2zM846 466h2v1h-2zM806 467h1v1h-1zM844 467h2v1h-2zM807 468h1v1h-1zM842 468h2v1h-2zM808 469h1v1h-1zM840 469h2v1h-2zM809 470h2v1h-2zM838 470h2v1h-2zM811 471h1v1h-1zM836 471h2v1h-2zM812 472h1v1h-1zM833 472h3v1h-3zM813 473h12v1h-12zM831 473h2v1h-2zM825 474h6v1h-6z" fill="#1e90ff"/>
</g>
<rect x="2" y="512" width="1210" height="1" fill="#e3e3e3"/>
<rect x="0" y="514" width="1212" height="1" fill="#000"/>
<rect x="2" y="515" width="1210" height="18" fill="#f0f0f0"/>
<rect x="0" y="533" width="1212" height="1" fill="#ffffff"/>
<rect x="0" y="534" width="1212" height="4" fill="#f0f0f0"/>
<rect x="0" y="538" width="1212" height="1" fill="#a0a0a0"/>
<rect x="114" y="513" width="108" height="19" fill="#ffffff"/>
<rect x="114" y="514" width="1" height="19" fill="#000"/>
<rect x="221" y="514" width="1" height="19" fill="#000"/>
<rect x="114" y="532" width="108" height="1" fill="#000"/>
<rect x="3" y="539" width="1" height="3" fill="#dedede"/>
<rect x="111" y="539" width="1" height="3" fill="#dedede"/>
<rect x="195" y="539" width="1" height="3" fill="#dedede"/>
<rect x="303" y="539" width="1" height="3" fill="#dedede"/>
<rect x="423" y="539" width="1" height="3" fill="#dedede"/>
<rect x="543" y="539" width="1" height="3" fill="#dedede"/>
<rect x="663" y="539" width="1" height="3" fill="#dedede"/>
<rect x="783" y="539" width="1" height="3" fill="#dedede"/>
<rect x="903" y="539" width="1" height="3" fill="#dedede"/>
<rect x="1023" y="539" width="1" height="3" fill="#dedede"/>
<rect x="330" y="517" width="1" height="14" fill="#606060"/>
<rect x="438" y="517" width="1" height="14" fill="#606060"/>
<rect x="550" y="517" width="1" height="14" fill="#606060"/>
<rect x="1185" y="520" width="1" height="6" fill="#8a8a8a"/><rect x="1184" y="521" width="1" height="4" fill="#8a8a8a"/><rect x="1183" y="522" width="1" height="2" fill="#8a8a8a"/><rect x="1202" y="520" width="1" height="6" fill="#8a8a8a"/><rect x="1203" y="521" width="1" height="4" fill="#8a8a8a"/><rect x="1204" y="522" width="1" height="2" fill="#8a8a8a"/>
</svg>
<div class="t tb" style="left:-4.5px;top:4px;color:#2b2b2b;font-size:10px;transform:scale(0.96,0.88);transform-origin:0 9px;">15</div>
<div class="t tb" style="left:16px;top:4px;color:#2b2b2b;font-size:10px;transform:scale(0.96,0.88);transform-origin:0 9px;">M30</div>
<div class="t tb" style="left:47px;top:4px;color:#2b2b2b;font-size:10px;transform:scale(0.96,0.88);transform-origin:0 9px;">H1</div>
<div class="t tb" style="left:74px;top:4px;color:#2b2b2b;font-size:10px;transform:scale(0.96,0.88);transform-origin:0 9px;">H4</div>
<div class="t tb" style="left:103px;top:4px;color:#2b2b2b;font-size:10px;transform:scale(0.96,0.88);transform-origin:0 9px;">D1</div>
<div class="t tb" style="left:131px;top:4px;color:#2b2b2b;font-size:10px;transform:scale(0.96,0.88);transform-origin:0 9px;">W1</div>
<div class="t tb" style="left:157px;top:4px;color:#2b2b2b;font-size:10px;transform:scale(0.96,0.88);transform-origin:0 9px;">MN</div>
<div class="t " style="left:9.5px;top:28px;color:#000;font-size:10px;transform:scale(0.94,1.0);transform-origin:0 9px;">AUDUSD-,Daily</div>
<div class="t " style="left:84.2px;top:28px;color:#000;font-size:10px;transform:scale(0.9,1.0);transform-origin:0 9px;">0.71351</div>
<div class="t " style="left:120.2px;top:28px;color:#000;font-size:10px;transform:scale(0.9,1.0);transform-origin:0 9px;">0.71419</div>
<div class="t " style="left:156.4px;top:28px;color:#000;font-size:10px;transform:scale(0.9,1.0);transform-origin:0 9px;">0.71223</div>
<div class="t " style="left:192.5px;top:28px;color:#000;font-size:10px;transform:scale(0.9,1.0);transform-origin:0 9px;">0.71363</div>
<div class="t " style="left:9px;top:369px;color:#000;font-size:10px;transform:scale(0.96,1.0);transform-origin:0 9px;">MACD(12,26,9)</div>
<div class="t " style="left:78.5px;top:369px;color:#000;font-size:10px;transform:scale(0.9,1.0);transform-origin:0 9px;">-0.002354</div>
<div class="t " style="left:122.1px;top:369px;color:#000;font-size:10px;transform:scale(0.91,1.0);transform-origin:0 9px;">-0.002949</div>
<div class="t " style="left:9px;top:433px;color:#000;font-size:10px;transform:scale(0.94,1.0);transform-origin:0 9px;">RSI(14)</div>
<div class="t " style="left:43.6px;top:433px;color:#000;font-size:10px;transform:scale(0.917,1.0);transform-origin:0 9px;">45.2463</div>
<div class="t " style="left:1173px;top:24px;color:#000;font-size:10px;transform:scale(0.92,1.0);transform-origin:0 9px;">0.74485</div>
<div class="t " style="left:1173px;top:57px;color:#000;font-size:10px;transform:scale(0.92,1.0);transform-origin:0 9px;">0.73610</div>
<div class="t " style="left:1173px;top:90px;color:#000;font-size:10px;transform:scale(0.92,1.0);transform-origin:0 9px;">0.72735</div>
<div class="t " style="left:1173px;top:123px;color:#000;font-size:10px;transform:scale(0.92,1.0);transform-origin:0 9px;">0.71860</div>
<div class="t " style="left:1173px;top:156px;color:#000;font-size:10px;transform:scale(0.92,1.0);transform-origin:0 9px;">0.70985</div>
<div class="t " style="left:1173px;top:222px;color:#000;font-size:10px;transform:scale(0.92,1.0);transform-origin:0 9px;">0.69235</div>
<div class="t " style="left:1173px;top:255px;color:#000;font-size:10px;transform:scale(0.92,1.0);transform-origin:0 9px;">0.68360</div>
<div class="t " style="left:1173px;top:288px;color:#000;font-size:10px;transform:scale(0.92,1.0);transform-origin:0 9px;">0.67485</div>
<div class="t " style="left:1173px;top:321px;color:#000;font-size:10px;transform:scale(0.92,1.0);transform-origin:0 9px;">0.66610</div>
<div class="t " style="left:1173px;top:354px;color:#000;font-size:10px;transform:scale(0.92,1.0);transform-origin:0 9px;">0.65735</div>
<div class="t " style="left:1171px;top:367px;color:#000;font-size:10px;transform:scale(0.92,1.0);transform-origin:0 9px;">0.015142</div>
<div class="t " style="left:1171px;top:405px;color:#000;font-size:10px;transform:scale(0.92,1.0);transform-origin:0 9px;">0.00</div>
<div class="t " style="left:1170px;top:414px;color:#000;font-size:10px;transform:scale(0.92,1.0);transform-origin:0 9px;">-0.005595</div>
<div class="t " style="left:1171px;top:431px;color:#000;font-size:10px;transform:scale(0.92,1.0);transform-origin:0 9px;">100</div>
<div class="t " style="left:1171px;top:444px;color:#000;font-size:10px;transform:scale(0.92,1.0);transform-origin:0 9px;">70</div>
<div class="t " style="left:1171px;top:468px;color:#000;font-size:10px;transform:scale(0.92,1.0);transform-origin:0 9px;">30</div>
<div class="t " style="left:1171px;top:480px;color:#000;font-size:10px;transform:scale(0.92,1.0);transform-origin:0 9px;">0</div>
<div class="t " style="left:4px;top:496px;color:#000;font-size:10px;transform:scale(0.935,1.0);transform-origin:0 9px;">28 May 2020</div>
<div class="t " style="left:68px;top:496px;color:#000;font-size:10px;transform:scale(0.935,1.0);transform-origin:0 9px;">7 Jun 2020</div>
<div class="t " style="left:132px;top:496px;color:#000;font-size:10px;transform:scale(0.935,1.0);transform-origin:0 9px;">16 Jun 2020</div>
<div class="t " style="left:196px;top:496px;color:#000;font-size:10px;transform:scale(0.935,1.0);transform-origin:0 9px;">25 Jun 2020</div>
<div class="t " style="left:260px;top:496px;color:#000;font-size:10px;transform:scale(0.935,1.0);transform-origin:0 9px;">5 Jul 2020</div>
<div class="t " style="left:324px;top:496px;color:#000;font-size:10px;transform:scale(0.935,1.0);transform-origin:0 9px;">14 Jul 2020</div>
<div class="t " style="left:388px;top:496px;color:#000;font-size:10px;transform:scale(0.935,1.0);transform-origin:0 9px;">23 Jul 2020</div>
<div class="t " style="left:452px;top:496px;color:#000;font-size:10px;transform:scale(0.935,1.0);transform-origin:0 9px;">2 Aug 2020</div>
<div class="t " style="left:516px;top:496px;color:#000;font-size:10px;transform:scale(0.935,1.0);transform-origin:0 9px;">11 Aug 2020</div>
<div class="t " style="left:580px;top:496px;color:#000;font-size:10px;transform:scale(0.935,1.0);transform-origin:0 9px;">20 Aug 2020</div>
<div class="t " style="left:644px;top:496px;color:#000;font-size:10px;transform:scale(0.935,1.0);transform-origin:0 9px;">30 Aug 2020</div>
<div class="t " style="left:708px;top:496px;color:#000;font-size:10px;transform:scale(0.935,1.0);transform-origin:0 9px;">8 Sep 2020</div>
<div class="t " style="left:772px;top:496px;color:#000;font-size:10px;transform:scale(0.935,1.0);transform-origin:0 9px;">17 Sep 2020</div>
<div class="t " style="left:836px;top:496px;color:#000;font-size:10px;transform:scale(0.935,1.0);transform-origin:0 9px;">27 Sep 2020</div>
<div class="t " style="left:900px;top:496px;color:#000;font-size:10px;transform:scale(0.935,1.0);transform-origin:0 9px;">6 Oct 2020</div>
<div class="t bx" style="left:1169px;top:40px;background:#ff0000;color:#fff"><span style="display:inline-block;transform:scaleX(0.92);transform-origin:0 0">0.74040</span></div>
<div class="t bx" style="left:1169px;top:79px;background:#ff0000;color:#fff"><span style="display:inline-block;transform:scaleX(0.92);transform-origin:0 0">0.73007</span></div>
<div class="t bx" style="left:1169px;top:117px;background:#00ff00;color:#fff"><span style="display:inline-block;transform:scaleX(0.92);transform-origin:0 0">0.72002</span></div>
<div class="t bx" style="left:1169px;top:142px;background:#000000;color:#fff"><span style="display:inline-block;transform:scaleX(0.92);transform-origin:0 0">0.71363</span></div>
<div class="t bx" style="left:1169px;top:153px;background:#0000ff;color:#fff"><span style="display:inline-block;transform:scaleX(0.92);transform-origin:0 0">0.71025</span></div>
<div class="t bx" style="left:1169px;top:191px;background:#0000ff;color:#fff"><span style="display:inline-block;transform:scaleX(0.92);transform-origin:0 0">0.70020</span></div>
<div class="t tab" style="left:16.9px;top:518px;color:#6d6d6d;transform:scaleX(1.015);transform-origin:0 0">EURUSD-,Daily</div>
<div class="t tab" style="left:123.8px;top:518px;color:#000;transform:scaleX(1.027);transform-origin:0 0">AUDUSD-,Daily</div>
<div class="t tab" style="left:233.6px;top:518px;color:#6d6d6d;transform:scaleX(1.015);transform-origin:0 0">USDCHF-,Daily</div>
<div class="t tab" style="left:340.4px;top:518px;color:#6d6d6d;transform:scaleX(1.03);transform-origin:0 0">USDCAD-,Daily</div>
<div class="t tab" style="left:449.3px;top:518px;color:#6d6d6d;transform:scaleX(1.054);transform-origin:0 0">USDCNH-,Daily</div>
</body></html>
